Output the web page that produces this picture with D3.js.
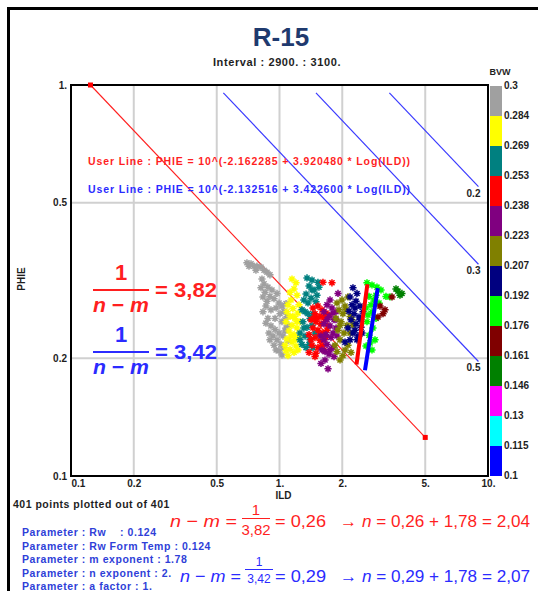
<!DOCTYPE html>
<html><head><meta charset="utf-8">
<script src="https://cdn.jsdelivr.net/npm/d3@7"></script>
<style>
html,body{margin:0;padding:0;background:#fff;}
svg{display:block;}
text{font-family:"Liberation Sans",Arial,sans-serif;}
</style></head><body>
<svg id="chart" width="538" height="591"></svg>
<script>
// ---- data ----
const titleText = "R-15";
const intervalText = "Interval : 2900. : 3100.";
const xTicks = [0.1, 0.2, 0.5, 1, 2, 5, 10];
const xTickLabels = ["0.1", "0.2", "0.5", "1.", "2.", "5.", "10."];
const yTicks = [0.1, 0.2, 0.5, 1];
const yTickLabels = ["0.1", "0.2", "0.5", "1."];
const bvwLabels = ["0.1","0.115","0.13","0.146","0.161","0.176","0.192","0.207","0.223","0.238","0.253","0.269","0.284","0.3"];
const bvwColors = ["#0000ff","#00ffff","#ff00ff","#008000","#800000","#00ff00","#000080","#808000","#800080","#ff0000","#008080","#ffff00","#a0a0a0"];
// water saturation lines: label, [ILD, PHIE] start, [ILD, PHIE] end
const swLabels = ["0.5", "0.3", "0.2"];
const swStart = [[0.538, 0.955], [1.496, 0.955], [3.365, 0.955]];
const swEnd = [[9.0, 0.1963], [9.0, 0.348], [9.0, 0.5495]];
// Sw = 1 line
const sw1Line = [[0.124, 1.0], [5.0, 0.1255]];
// user lines: PHIE = 10^(a + b * Log(ILD))
const userA = [-2.162285, -2.132516];
const userB = [3.920480, 3.422600];
const userIld = [[2.34, 2.64], [2.57, 2.96]];
const userColors = ["#ff0000", "#0000ff"];
// points: [ILD, PHIE, BVW]
const points = [
[0.698,0.351,0.29],[0.730,0.349,0.29],[0.755,0.344,0.29],[0.780,0.344,0.29],[0.815,0.342,0.29],[0.843,0.336,0.29],[0.871,0.332,0.29],[0.900,0.327,0.29],[0.714,0.344,0.29],[0.824,0.319,0.29],
[0.843,0.310,0.29],[0.815,0.303,0.29],[0.852,0.295,0.29],[0.833,0.287,0.29],[0.871,0.280,0.29],[0.861,0.272,0.29],[0.900,0.288,0.29],[0.920,0.299,0.29],[0.941,0.284,0.29],[0.973,0.293,0.29],
[0.995,0.277,0.29],[0.963,0.269,0.29],[1.028,0.272,0.29],[1.051,0.264,0.29],[1.006,0.260,0.29],[1.086,0.256,0.29],[1.063,0.251,0.29],[1.075,0.276,0.29],[0.910,0.266,0.29],[0.880,0.253,0.29],
[0.861,0.246,0.29],[0.910,0.242,0.29],[0.952,0.237,0.29],[0.995,0.232,0.29],[0.931,0.228,0.29],[0.973,0.223,0.29],[1.017,0.217,0.29],[1.051,0.213,0.29],[0.995,0.209,0.29],[1.039,0.228,0.29],
[1.075,0.239,0.29],[0.890,0.232,0.29],[0.941,0.216,0.29],[1.098,0.222,0.29],
[0.771,0.336,0.29],[0.880,0.304,0.29],[0.952,0.253,0.29],[1.028,0.248,0.29],[0.900,0.223,0.29],[1.063,0.235,0.29],[0.963,0.210,0.29],[1.028,0.204,0.29],[0.833,0.263,0.29],[1.098,0.243,0.29],
[1.148,0.319,0.276],[1.200,0.312,0.276],[1.174,0.301,0.276],[1.213,0.290,0.276],[1.135,0.282,0.276],[1.098,0.274,0.276],[1.160,0.268,0.276],[1.226,0.261,0.276],[1.123,0.256,0.276],[1.187,0.253,0.276],
[1.075,0.248,0.276],[1.148,0.243,0.276],[1.213,0.239,0.276],[1.111,0.235,0.276],[1.174,0.230,0.276],[1.240,0.226,0.276],[1.086,0.224,0.276],[1.148,0.220,0.276],[1.200,0.215,0.276],[1.123,0.211,0.276],
[1.174,0.207,0.276],[1.254,0.248,0.276],[1.063,0.216,0.276],[1.240,0.274,0.276],[1.098,0.203,0.276],
[1.086,0.263,0.276],[1.187,0.223,0.276],[1.135,0.228,0.276],[1.226,0.210,0.276],[1.075,0.209,0.276],[1.160,0.256,0.276],[1.213,0.248,0.276],[1.123,0.295,0.276],
[1.355,0.321,0.261],[1.432,0.317,0.261],[1.529,0.313,0.261],[1.386,0.306,0.261],[1.464,0.299,0.261],[1.341,0.292,0.261],[1.417,0.285,0.261],[1.496,0.279,0.261],[1.370,0.277,0.261],[1.326,0.263,0.261],
[1.401,0.253,0.261],[1.295,0.248,0.261],[1.355,0.240,0.261],[1.432,0.243,0.261],[1.254,0.232,0.261],[1.326,0.228,0.261],[1.401,0.223,0.261],[1.282,0.217,0.261],[1.341,0.213,0.261],[1.480,0.232,0.261],
[1.513,0.290,0.261],[1.309,0.282,0.261],[1.447,0.260,0.261],[1.447,0.213,0.261],
[1.282,0.266,0.261],[1.370,0.260,0.261],[1.254,0.223,0.261],[1.386,0.217,0.261],[1.432,0.299,0.261],[1.546,0.304,0.261],[1.309,0.239,0.261],
[1.616,0.313,0.245],[1.785,0.312,0.245],[1.447,0.269,0.245],[1.529,0.272,0.245],[1.599,0.266,0.245],[1.480,0.260,0.245],[1.564,0.256,0.245],[1.671,0.261,0.245],[1.417,0.251,0.245],[1.496,0.248,0.245],
[1.581,0.245,0.245],[1.653,0.251,0.245],[1.447,0.239,0.245],[1.529,0.236,0.245],[1.616,0.232,0.245],[1.709,0.242,0.245],[1.386,0.230,0.245],[1.480,0.226,0.245],[1.564,0.222,0.245],[1.671,0.226,0.245],
[1.432,0.216,0.245],[1.529,0.213,0.245],[1.634,0.210,0.245],[1.386,0.207,0.245],[1.480,0.202,0.245],[1.728,0.258,0.245],[1.513,0.253,0.245],
[1.564,0.230,0.245],[1.464,0.253,0.245],[1.633,0.255,0.245],[1.417,0.223,0.245],[1.599,0.216,0.245],[1.496,0.206,0.245],[1.690,0.236,0.245],
[1.908,0.293,0.230],[1.747,0.282,0.230],[1.690,0.274,0.230],[1.785,0.269,0.230],[1.866,0.263,0.230],[1.633,0.263,0.230],[1.728,0.256,0.230],[1.826,0.251,0.230],[1.633,0.245,0.230],[1.747,0.242,0.230],
[1.866,0.239,0.230],[1.671,0.230,0.230],[1.766,0.226,0.230],[1.581,0.228,0.230],[1.690,0.217,0.230],[1.805,0.213,0.230],[1.599,0.210,0.230],[1.728,0.205,0.230],[1.826,0.202,0.230],[1.653,0.198,0.230],
[1.581,0.194,0.230],[1.709,0.188,0.230],[1.887,0.228,0.230],
[1.805,0.261,0.230],[1.690,0.251,0.230],[1.805,0.232,0.230],[1.633,0.223,0.230],[1.747,0.210,0.230],[1.866,0.251,0.230],[1.653,0.208,0.230],
[2.130,0.287,0.215],[1.994,0.282,0.215],[1.887,0.277,0.215],[2.062,0.272,0.215],[1.930,0.266,0.215],[2.015,0.260,0.215],[2.179,0.256,0.215],[1.866,0.253,0.215],[1.973,0.248,0.215],[2.108,0.243,0.215],
[1.908,0.236,0.215],[2.039,0.232,0.215],[2.227,0.251,0.215],[1.951,0.223,0.215],[2.130,0.216,0.215],[1.887,0.208,0.215],[2.015,0.203,0.215],[2.203,0.207,0.215],[1.951,0.198,0.215],[1.846,0.216,0.215],
[2.085,0.266,0.215],[1.951,0.243,0.215],[2.251,0.243,0.215],[2.062,0.210,0.215],[2.179,0.232,0.215],
[2.251,0.303,0.199],[2.353,0.293,0.199],[2.179,0.287,0.199],[2.327,0.280,0.199],[2.433,0.272,0.199],[2.155,0.264,0.199],[2.277,0.260,0.199],[2.406,0.255,0.199],[2.514,0.263,0.199],[2.203,0.251,0.199],
[2.327,0.245,0.199],[2.460,0.240,0.199],[2.130,0.239,0.199],[2.251,0.232,0.199],[2.378,0.228,0.199],[2.062,0.220,0.199],[2.179,0.223,0.199],[2.487,0.232,0.199],
[2.302,0.269,0.199],[2.227,0.274,0.199],[2.433,0.251,0.199],[2.302,0.236,0.199],[2.353,0.223,0.199],
[2.628,0.312,0.184],[2.777,0.308,0.184],[2.934,0.304,0.184],[3.068,0.299,0.184],[2.687,0.288,0.184],[2.840,0.282,0.184],[3.000,0.277,0.184],[2.600,0.269,0.184],[2.777,0.263,0.184],[2.903,0.253,0.184],
[2.628,0.248,0.184],[2.807,0.239,0.184],[2.687,0.229,0.184],[2.871,0.223,0.184],[2.600,0.215,0.184],[2.777,0.210,0.184],[3.241,0.288,0.184],[3.388,0.287,0.184],
[2.657,0.258,0.184],[2.747,0.274,0.184],[2.903,0.290,0.184],[2.717,0.219,0.184],
[3.463,0.287,0.168],[3.034,0.272,0.168],[3.206,0.266,0.168],[2.967,0.255,0.168],[3.136,0.260,0.168],
[3.699,0.297,0.153],[3.866,0.293,0.153],[3.783,0.290,0.153],[3.620,0.301,0.153]
];
const pointsNote = "401 points plotted out of 401";
const paramNames = ["Rw   ", "Rw Form Temp", "m exponent", "n exponent", "a factor"];
const paramValues = ["0.124", "0.124", "1.78", "2.", "1."];

// ---- layout ----
const svg = d3.select("#chart");
const x = d3.scaleLog().domain([0.1, 10]).range([71, 488]);
const y = d3.scaleLog().domain([0.1, 1]).range([476, 85]);
const RED = "#ff1f1f", BLUE = "#2b2bff", PARAM_BLUE = "#2f3fd8", INK = "#1e1e1e";

// outer frame
svg.append("line").attr("x1", 8.5).attr("x2", 8.5).attr("y1", 7).attr("y2", 591).attr("stroke", "#000").attr("stroke-width", 3);
svg.append("line").attr("x1", 7).attr("x2", 538).attr("y1", 8.5).attr("y2", 8.5).attr("stroke", "#000").attr("stroke-width", 3);

// title
svg.append("text").attr("x", 281).attr("y", 46).attr("text-anchor", "middle")
  .attr("font-size", 26).attr("font-weight", "bold").attr("fill", "#1f3a6e").text(titleText);
svg.append("text").attr("x", 277).attr("y", 66).attr("text-anchor", "middle")
  .attr("font-size", 11).attr("font-weight", "bold").attr("letter-spacing", 0.6).attr("fill", INK).text(intervalText);

// grid
const grid = svg.append("g").attr("stroke", "#d0d0d0").attr("stroke-width", 2);
grid.selectAll("line.gx").data(xTicks.slice(1, -1)).join("line")
  .attr("x1", d => x(d)).attr("x2", d => x(d)).attr("y1", y(1)).attr("y2", y(0.1));
grid.selectAll("line.gy").data(yTicks.slice(1, -1)).join("line")
  .attr("x1", x(0.1)).attr("x2", x(10)).attr("y1", d => y(d)).attr("y2", d => y(d));

// axes
const xAxis = svg.append("g").attr("transform", `translate(0,${y(0.1)})`)
  .call(d3.axisBottom(x).tickValues(xTicks).tickFormat((d, i) => xTickLabels[i]).tickSize(0).tickPadding(4));
const yAxis = svg.append("g").attr("transform", `translate(${x(0.1)},0)`)
  .call(d3.axisLeft(y).tickValues(yTicks).tickFormat((d, i) => yTickLabels[i]).tickSize(0).tickPadding(4));
[xAxis, yAxis].forEach(g => {
  g.select(".domain").remove();
  g.selectAll("text").attr("font-family", "Liberation Sans, Arial, sans-serif")
    .attr("font-size", 10).attr("font-weight", "bold").attr("fill", INK);
});
xAxis.selectAll(".tick").filter((d, i) => i === 0).select("text").attr("text-anchor", "start").attr("x", 0);

svg.append("text").attr("x", x(1) + 4).attr("y", 499).attr("text-anchor", "middle")
  .attr("font-size", 10).attr("font-weight", "bold").attr("fill", INK).text("ILD");
svg.append("text").attr("transform", "translate(25,279) rotate(-90)").attr("text-anchor", "middle")
  .attr("font-size", 10).attr("font-weight", "bold").attr("fill", INK).text("PHIE");

// plot frame
svg.append("rect").attr("x", x(0.1)).attr("y", y(1)).attr("width", x(10) - x(0.1)).attr("height", y(0.1) - y(1))
  .attr("fill", "none").attr("stroke", "#000").attr("stroke-width", 2);

// water saturation lines
const line = d3.line().x(d => x(d[0])).y(d => y(d[1]));
swLabels.forEach((lab, i) => {
  svg.append("path").attr("d", line([swStart[i], swEnd[i]])).attr("stroke", "#3a3aff").attr("stroke-width", 1.2).attr("fill", "none");
  svg.append("text").attr("x", x(swEnd[i][0]) + 2).attr("y", y(swEnd[i][1]) + 10).attr("text-anchor", "end")
    .attr("font-size", 10).attr("font-weight", "bold").attr("fill", INK).text(lab);
});

// Sw = 1 line with end markers
svg.append("path").attr("d", line(sw1Line)).attr("stroke", "#ff2020").attr("stroke-width", 1.1).attr("fill", "none");
svg.selectAll("rect.sw1").data(sw1Line).join("rect")
  .attr("x", d => x(d[0]) - 2.5).attr("y", d => y(d[1]) - 2.5).attr("width", 5).attr("height", 5).attr("fill", "#ff0000");

// points
const color = d3.scaleThreshold().domain(bvwLabels.slice(1, -1).map(Number)).range(bvwColors);
const r = 3.6, k = r * 0.707;
const star = `M${-r},0L${r},0M0,${-r}L0,${r}M${-k},${-k}L${k},${k}M${-k},${k}L${k},${-k}`;
svg.append("g").selectAll("path").data(points).join("path")
  .attr("transform", d => `translate(${x(d[0])},${y(d[1])})`)
  .attr("d", star).attr("fill", "none").attr("stroke", d => color(d[2])).attr("stroke-width", 1.5);

// user lines
userA.forEach((a, i) => {
  const b = userB[i];
  const pts = userIld[i].map(v => [v, Math.pow(10, a + b * Math.log10(v))]);
  svg.append("path").attr("d", line(pts)).attr("stroke", userColors[i]).attr("stroke-width", 4).attr("fill", "none");
});

// user line labels
svg.append("text").attr("x", 88).attr("y", 165).attr("font-size", 10.5).attr("font-weight", "bold").attr("fill", RED)
  .attr("textLength", 322).attr("lengthAdjust", "spacing")
  .text("User Line : PHIE = 10^(-2.162285 + 3.920480 * Log(ILD))");
svg.append("text").attr("x", 88).attr("y", 193).attr("font-size", 10.5).attr("font-weight", "bold").attr("fill", BLUE)
  .attr("textLength", 322).attr("lengthAdjust", "spacing")
  .text("User Line : PHIE = 10^(-2.132516 + 3.422600 * Log(ILD))");

// colour bar
const cb = d3.scaleLinear().domain([0, bvwColors.length]).range([476, 86]);
svg.append("g").selectAll("rect").data(bvwColors).join("rect")
  .attr("x", 490).attr("width", 12).attr("y", (d, i) => cb(i + 1)).attr("height", (d, i) => cb(i) - cb(i + 1)).attr("fill", d => d);
svg.append("g").selectAll("text").data(bvwLabels).join("text")
  .attr("x", 504).attr("y", (d, i) => cb(i) + 3).attr("font-size", 10).attr("font-weight", "bold").attr("fill", INK).text(d => d);
svg.append("text").attr("x", 500).attr("y", 75).attr("text-anchor", "middle")
  .attr("font-size", 9).attr("font-weight", "bold").attr("fill", INK).text("BVW");

// exponent annotations
const MATH = "DejaVu Serif, serif";
function fraction(cx, base, col, value) {
  svg.append("text").attr("x", cx).attr("y", base).attr("text-anchor", "middle").attr("font-family", MATH)
    .attr("font-size", 22).attr("font-weight", "bold").attr("fill", col).text("1");
  svg.append("line").attr("x1", 93).attr("x2", 149).attr("y1", base + 10).attr("y2", base + 10).attr("stroke", col).attr("stroke-width", 2);
  const t = svg.append("text").attr("x", 93).attr("y", base + 32).attr("font-family", MATH)
    .attr("font-size", 21).attr("font-weight", "bold").attr("fill", col).attr("textLength", 56).attr("lengthAdjust", "spacingAndGlyphs");
  t.append("tspan").attr("font-style", "italic").text("n");
  t.append("tspan").text(" − ");
  t.append("tspan").attr("font-style", "italic").text("m");
  svg.append("text").attr("x", 155).attr("y", base + 17).attr("font-family", MATH)
    .attr("font-size", 20).attr("font-weight", "bold").attr("fill", col).attr("textLength", 62).attr("lengthAdjust", "spacingAndGlyphs")
    .text("= " + value);
}
fraction(121, 280, RED, "3,82");
fraction(121, 342, BLUE, "3,42");

// parameter list
svg.append("text").attr("x", 13).attr("y", 508).attr("font-size", 10.5).attr("font-weight", "bold").attr("letter-spacing", 0.5)
  .attr("fill", INK).text(pointsNote);
svg.append("g").selectAll("text").data(paramNames).join("text")
  .attr("x", 22).attr("y", (d, i) => 536 + i * 13.5).attr("font-size", 10.5).attr("font-weight", "bold").attr("letter-spacing", 0.55)
  .attr("fill", PARAM_BLUE).style("white-space", "pre").text((d, i) => `Parameter : ${d} : ${paramValues[i]}`);

// saturation exponent equations
function equation(base, col, x0, lhsLen, fracCx, fracTop, fracSize, den, res, n) {
  const g = svg.append("g").attr("fill", col).attr("font-family", MATH);
  const l = g.append("text").attr("x", x0).attr("y", base).attr("font-size", 17).attr("textLength", lhsLen).attr("lengthAdjust", "spacingAndGlyphs");
  l.append("tspan").attr("font-style", "italic").text("n");
  l.append("tspan").text(" − ");
  l.append("tspan").attr("font-style", "italic").text("m");
  l.append("tspan").text(" =");
  g.append("text").attr("x", fracCx).attr("y", fracTop).attr("text-anchor", "middle").attr("font-size", fracSize).text("1");
  g.append("line").attr("x1", fracCx - 14).attr("x2", fracCx + 14).attr("y1", fracTop + 3.5).attr("y2", fracTop + 3.5).attr("stroke", col).attr("stroke-width", 1);
  g.append("text").attr("x", fracCx).attr("y", fracTop + 5 + fracSize).attr("text-anchor", "middle").attr("font-size", fracSize).text(den);
  g.append("text").attr("x", 275).attr("y", base).attr("font-size", 17).attr("textLength", 51).attr("lengthAdjust", "spacingAndGlyphs").text("= " + res);
  const r2 = g.append("text").attr("x", 340).attr("y", base).attr("font-size", 17).attr("textLength", 190).attr("lengthAdjust", "spacingAndGlyphs");
  r2.append("tspan").text("→ ");
  r2.append("tspan").attr("font-style", "italic").text("n");
  r2.append("tspan").text(` = ${res} + 1,78 = ${n}`);
}
equation(527, RED, 170, 67, 256, 515, 15, "3,82", "0,26", "2,04");
equation(582, BLUE, 180, 61, 259, 566, 12, "3,42", "0,29", "2,07");
</script></body></html>
